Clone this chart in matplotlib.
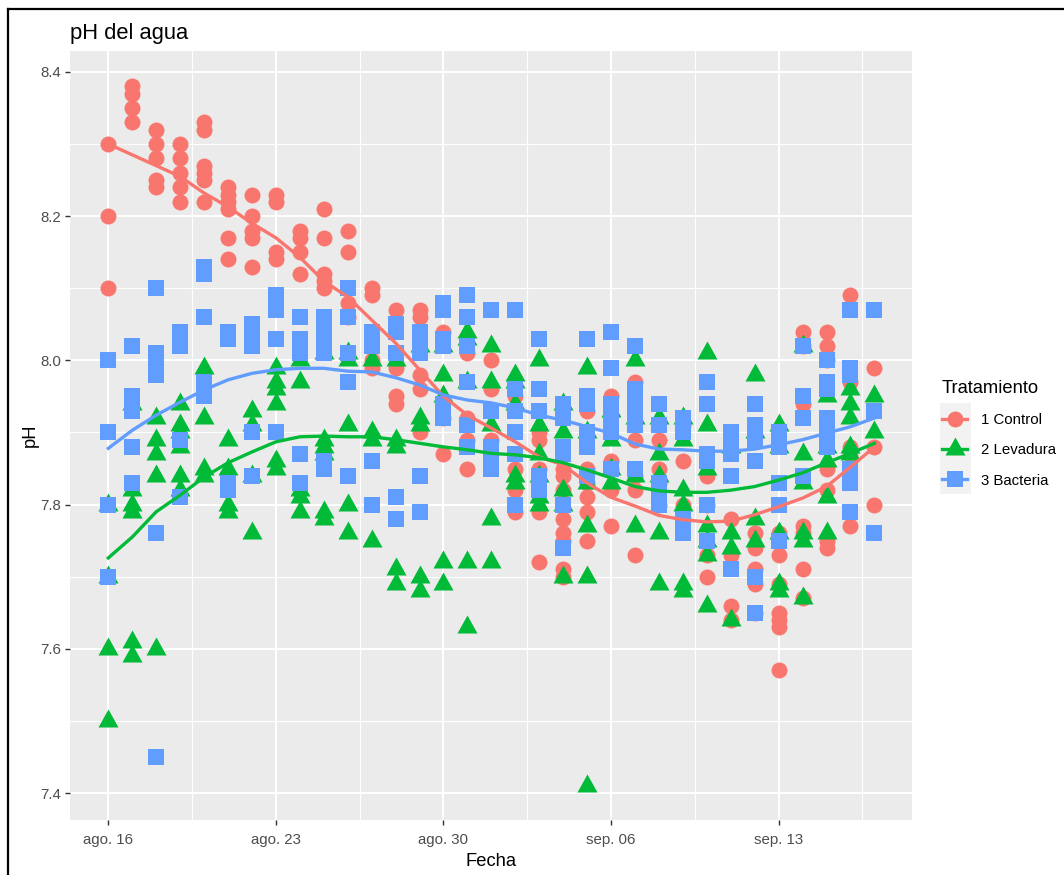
import pandas as pd
import matplotlib.pyplot as plt
from matplotlib.lines import Line2D
from matplotlib.patches import Rectangle

plt.rcParams['font.family'] = ['Liberation Sans', 'DejaVu Sans']

# dias de medicion, 16 ago a 17 sep
start_date = '2021-08-16'
n_days = 33
tick_days = [0, 7, 14, 21, 28]
tick_labels = ['ago. 16', 'ago. 23', 'ago. 30', 'sep. 06', 'sep. 13']
y_ticks = [7.4, 7.6, 7.8, 8.0, 8.2, 8.4]

# pH leido por dia (una lista por dia)
control_ph = [
    [8.30, 8.20, 8.10],
    [8.38, 8.37, 8.35, 8.33],
    [8.32, 8.30, 8.28, 8.25, 8.24],
    [8.30, 8.28, 8.26, 8.24, 8.22],
    [8.33, 8.32, 8.27, 8.26, 8.25, 8.22],
    [8.24, 8.23, 8.22, 8.21, 8.17, 8.14],
    [8.23, 8.20, 8.18, 8.17, 8.13],
    [8.23, 8.22, 8.15, 8.14],
    [8.18, 8.17, 8.15, 8.12],
    [8.21, 8.17, 8.12, 8.11, 8.10],
    [8.18, 8.15, 8.08, 8.06],
    [8.10, 8.09, 8.00, 7.99],
    [8.07, 7.99, 7.95, 7.94],
    [8.07, 8.06, 7.98, 7.96, 7.90],
    [8.04, 7.92, 7.87],
    [8.01, 7.92, 7.89, 7.85],
    [8.00, 7.96, 7.89],
    [7.95, 7.85, 7.82, 7.79],
    [7.90, 7.89, 7.85, 7.79, 7.72],
    [7.85, 7.84, 7.82, 7.78, 7.76, 7.75, 7.71, 7.70],
    [7.93, 7.85, 7.83, 7.81, 7.79, 7.75],
    [7.95, 7.86, 7.85, 7.82, 7.77],
    [7.97, 7.89, 7.84, 7.82, 7.73],
    [7.89, 7.85, 7.83, 7.80],
    [7.91, 7.86, 7.80, 7.78],
    [7.84, 7.80, 7.73, 7.70],
    [7.78, 7.73, 7.66, 7.64],
    [7.76, 7.74, 7.71, 7.69, 7.65],
    [7.76, 7.73, 7.69, 7.65, 7.64, 7.63, 7.57],
    [8.04, 8.02, 7.94, 7.77, 7.76, 7.71, 7.67],
    [8.04, 8.02, 8.00, 7.85, 7.82, 7.75, 7.74],
    [8.09, 7.97, 7.88, 7.87, 7.77],
    [7.99, 7.88, 7.80],
]
levadura_ph = [
    [7.80, 7.70, 7.60, 7.50],
    [7.94, 7.82, 7.80, 7.79, 7.61, 7.59],
    [7.92, 7.89, 7.87, 7.84, 7.60],
    [7.94, 7.91, 7.90, 7.88, 7.84, 7.82],
    [7.99, 7.92, 7.85, 7.84],
    [7.89, 7.85, 7.80, 7.79],
    [7.93, 7.91, 7.84, 7.76],
    [7.99, 7.97, 7.96, 7.94, 7.86, 7.85],
    [8.00, 7.97, 7.82, 7.81, 7.79],
    [8.01, 7.89, 7.88, 7.87, 7.79, 7.78],
    [8.01, 8.00, 7.91, 7.80, 7.76],
    [8.00, 7.90, 7.89, 7.75],
    [8.00, 7.89, 7.88, 7.71, 7.69],
    [8.02, 7.92, 7.91, 7.70, 7.68],
    [8.02, 7.98, 7.95, 7.72, 7.69],
    [8.04, 8.03, 7.97, 7.72, 7.63],
    [8.02, 7.97, 7.91, 7.78, 7.72],
    [7.98, 7.97, 7.94, 7.84, 7.83],
    [8.00, 7.91, 7.87, 7.84, 7.81, 7.80],
    [7.94, 7.90, 7.82, 7.80, 7.70],
    [7.99, 7.90, 7.83, 7.77, 7.70, 7.41],
    [7.93, 7.89, 7.85, 7.83],
    [8.00, 7.92, 7.84, 7.77],
    [7.92, 7.87, 7.84, 7.76, 7.69],
    [7.92, 7.89, 7.82, 7.80, 7.69, 7.68],
    [8.01, 7.91, 7.85, 7.77, 7.75, 7.73, 7.66],
    [7.88, 7.76, 7.74, 7.64],
    [7.98, 7.90, 7.78, 7.75],
    [7.91, 7.88, 7.76, 7.69, 7.68],
    [8.02, 7.87, 7.83, 7.76, 7.75, 7.67],
    [7.95, 7.88, 7.86, 7.81, 7.76],
    [7.96, 7.94, 7.92, 7.88, 7.87],
    [7.95, 7.90],
]
bacteria_ph = [
    [8.00, 7.90, 7.80, 7.70],
    [8.02, 7.95, 7.94, 7.93, 7.88, 7.83],
    [8.10, 8.01, 8.00, 7.99, 7.98, 7.76, 7.45],
    [8.04, 8.03, 8.02, 7.89, 7.81],
    [8.13, 8.12, 8.06, 7.97, 7.96, 7.95],
    [8.04, 8.03, 7.83, 7.82],
    [8.05, 8.04, 8.03, 8.02, 7.90, 7.84],
    [8.09, 8.08, 8.07, 8.03, 7.90],
    [8.06, 8.03, 8.02, 8.01, 7.87, 7.83],
    [8.06, 8.05, 8.04, 8.03, 8.02, 8.01, 7.86, 7.85],
    [8.10, 8.06, 8.01, 7.97, 7.84],
    [8.04, 8.03, 8.02, 7.86, 7.80],
    [8.05, 8.04, 8.01, 7.81, 7.78],
    [8.04, 8.03, 8.02, 8.01, 7.84, 7.79],
    [8.08, 8.07, 8.03, 8.02, 7.94, 7.93, 7.92],
    [8.09, 8.06, 8.02, 7.97, 7.91, 7.88],
    [8.07, 7.93, 7.88, 7.87, 7.86, 7.85],
    [8.07, 7.96, 7.93, 7.90, 7.87, 7.80],
    [8.03, 7.96, 7.93, 7.84, 7.83, 7.82],
    [7.94, 7.93, 7.92, 7.88, 7.87, 7.80, 7.74],
    [8.03, 7.95, 7.94, 7.90, 7.89, 7.88, 7.84],
    [8.04, 7.99, 7.94, 7.93, 7.91, 7.90, 7.85],
    [8.02, 7.96, 7.95, 7.94, 7.92, 7.91, 7.85],
    [7.94, 7.91, 7.83, 7.82, 7.80],
    [7.92, 7.91, 7.90, 7.78, 7.77, 7.76],
    [7.97, 7.94, 7.87, 7.86, 7.80, 7.75],
    [7.90, 7.89, 7.88, 7.87, 7.84, 7.71],
    [7.94, 7.91, 7.90, 7.89, 7.86, 7.70, 7.65],
    [7.90, 7.89, 7.88, 7.83, 7.80, 7.75],
    [8.02, 7.95, 7.92, 7.84],
    [8.00, 7.97, 7.96, 7.92, 7.91, 7.90, 7.89, 7.88],
    [8.07, 7.99, 7.98, 7.85, 7.84, 7.83, 7.79],
    [8.07, 7.93, 7.76],
]

# curvas suavizadas, un valor por dia
control_smooth = [8.300, 8.285, 8.270, 8.255, 8.232, 8.213, 8.190, 8.170, 8.143, 8.110, 8.088,
                  8.056, 8.024, 7.987, 7.950, 7.924, 7.906, 7.887, 7.866, 7.855, 7.830, 7.810,
                  7.798, 7.785, 7.779, 7.776, 7.777, 7.786, 7.797, 7.809, 7.825, 7.852, 7.880]
levadura_smooth = [7.726, 7.755, 7.790, 7.813, 7.838, 7.858, 7.873, 7.887, 7.894, 7.895, 7.894,
                   7.894, 7.890, 7.885, 7.880, 7.876, 7.871, 7.869, 7.865, 7.858, 7.848, 7.837,
                   7.825, 7.819, 7.817, 7.817, 7.820, 7.825, 7.834, 7.844, 7.858, 7.871, 7.885]
bacteria_smooth = [7.878, 7.903, 7.924, 7.942, 7.959, 7.973, 7.982, 7.987, 7.989, 7.989, 7.985,
                   7.984, 7.976, 7.966, 7.952, 7.945, 7.941, 7.934, 7.924, 7.917, 7.908, 7.899,
                   7.884, 7.877, 7.876, 7.874, 7.874, 7.877, 7.883, 7.890, 7.899, 7.908, 7.920]

dates = pd.date_range(start_date, periods=n_days)


def flatten(per_day):
    xs, ys = [], []
    for d, vals in zip(dates, per_day):
        for v in vals:
            xs.append(d)
            ys.append(v)
    return xs, ys


W, H = 1064, 875
fig = plt.figure(figsize=(W / 100, H / 100), dpi=100, facecolor='white')
ax = fig.add_axes([70 / W, 1 - 820 / H, 842 / W, 769 / H], facecolor='#EBEBEB')

# triangulo como pch 17 de R: el valor queda por debajo del centro
triangle = [(-10, -6), (10, -6), (0, 12)]

series = [
    ('1 Control', control_ph, control_smooth, '#F8766D', 'o', 11.5),
    ('2 Levadura', levadura_ph, levadura_smooth, '#00BA38', triangle, 17.3),
    ('3 Bacteria', bacteria_ph, bacteria_smooth, '#619CFF', 's', 11.5),
]

for name, per_day, smooth, color, marker, size in series:
    xs, ys = flatten(per_day)
    ax.scatter(xs, ys, s=size ** 2, c=color, marker=marker, linewidths=0, zorder=3)
for name, per_day, smooth, color, marker, size in series:
    ax.plot(dates, smooth, color=color, linewidth=2.4, zorder=4)

# ejes y rejilla estilo ggplot
ax.set_xlim(dates[0] - pd.Timedelta(days=1.6), dates[0] + pd.Timedelta(days=33.57))
ax.set_ylim(7.3626, 8.429)
ax.set_xticks([dates[d] for d in tick_days])
ax.set_xticklabels(tick_labels)
ax.set_yticks(y_ticks)
ax.set_yticklabels([f'{v:.1f}' for v in y_ticks])
minor_x = [dates[0] + pd.Timedelta(days=d + 3.5) for d in tick_days]
ax.set_xticks(minor_x, minor=True)
ax.set_yticks([7.5, 7.7, 7.9, 8.1, 8.3], minor=True)
ax.grid(True, which='major', color='white', linewidth=1.5, zorder=1)
ax.grid(True, which='minor', color='white', linewidth=0.8, zorder=1)
ax.set_axisbelow(True)
ax.tick_params(which='major', length=3.5, width=1.0, color='#333333', labelcolor='#4D4D4D',
               labelsize=10.8, pad=3)
ax.tick_params(axis='x', which='major', pad=6)
ax.tick_params(which='minor', length=0)
for s in ax.spines.values():
    s.set_visible(False)

ax.set_title('pH del agua', loc='left', fontsize=15.8, color='black', pad=9)
ax.set_xlabel('Fecha', fontsize=13.2, labelpad=4)
ax.set_ylabel('pH', fontsize=13.2, labelpad=1)

# fondo de las claves de la leyenda
fig.add_artist(Rectangle((940 / W, 1 - 494 / H), 31 / W, 91 / H, transform=fig.transFigure,
                         facecolor='#F2F2F2', edgecolor='none', zorder=1))
handles = [Line2D([], [], color=s[3], marker=s[4], markersize=s[5], linewidth=2.4,
                  markeredgewidth=0)
           for s in series]
leg = fig.legend(handles, [s[0] for s in series], title='Tratamiento', loc='upper left',
                 bbox_to_anchor=(942 / W, 1 - 380 / H), frameon=False, fontsize=10.8,
                 title_fontsize=13.2, handlelength=1.67, handletextpad=0.95, labelspacing=1.08,
                 borderpad=0, borderaxespad=0, alignment='left')
leg.set_zorder(2)

# marco negro de la captura
fig.add_artist(Line2D([7.5 / W, 7.5 / W], [0, 1 - 9 / H], color='black', linewidth=1.6))
fig.add_artist(Line2D([7.5 / W, 1], [1 - 9 / H, 1 - 9 / H], color='black', linewidth=1.6))

plt.savefig('out.png', dpi=100)
print("saved out.png")
